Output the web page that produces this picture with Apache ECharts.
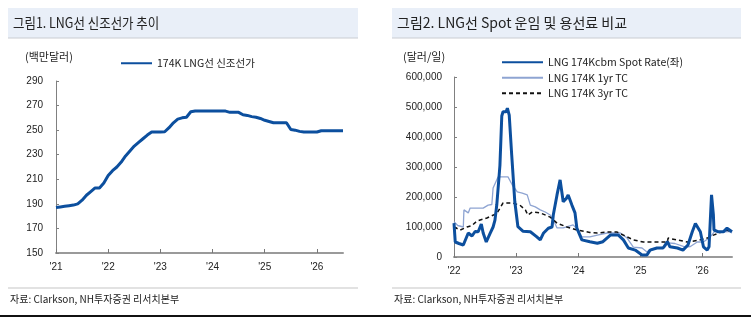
<!DOCTYPE html>
<html>
<head>
<meta charset="utf-8">
<script src="https://cdn.jsdelivr.net/npm/echarts@6/dist/echarts.min.js"></script>
<style>
  html, body { margin: 0; padding: 0; background: #fff; }
  #main { width: 751px; height: 317px; }
</style>
</head>
<body>
<div id="main"></div>
<script>
  // 그림1: 174K LNG선 신조선가 (월별, 2021.01 ~ 2026.07, 백만달러)
  var newbuildStart = 2021;
  var newbuildPrice = [
    187, 187.5, 188, 188.5, 189, 190, 193, 197, 200, 203, 203, 207,
    213, 217, 220, 224, 229, 233, 237, 240, 243, 246, 248.5, 248.5,
    248.5, 248.7, 252, 256, 259, 260, 260.5, 265, 265.5, 265.5, 265.5, 265.5,
    265.5, 265.5, 265.5, 265.5, 264.5, 264.5, 264.5, 262.5, 262, 261, 260.5, 259.5,
    258, 257, 256, 256, 256, 256, 250.5, 250, 249, 248.5, 248.5, 248.5,
    248.5, 249.5, 249.5, 249.5, 249.5, 249.5, 249.5
  ];
  var leftYears = [2021, 2022, 2023, 2024, 2025, 2026];

  // 그림2: Spot 운임 및 용선료 (달러/일), 시점은 연 단위 소수
  var spotT = [2022.00, 2022.02, 2022.08, 2022.15, 2022.19, 2022.23, 2022.29, 2022.34, 2022.39, 2022.44,
    2022.47, 2022.52, 2022.58, 2022.63, 2022.66, 2022.69, 2022.74, 2022.77, 2022.79, 2022.84,
    2022.86, 2022.89, 2022.93, 2022.98, 2023.03, 2023.11, 2023.23, 2023.33, 2023.39, 2023.44,
    2023.52, 2023.58, 2023.60, 2023.66, 2023.71, 2023.76, 2023.81, 2023.84, 2023.90, 2023.95,
    2023.98, 2024.06, 2024.19, 2024.31, 2024.40, 2024.52, 2024.65, 2024.73, 2024.81, 2024.92,
    2025.03, 2025.11, 2025.16, 2025.27, 2025.37, 2025.44, 2025.48, 2025.60, 2025.69, 2025.77,
    2025.84, 2025.89, 2025.97, 2026.02, 2026.08, 2026.11, 2026.15, 2026.18, 2026.19, 2026.26,
    2026.34, 2026.40, 2026.48];
  var spotV = [113000, 50000, 45000, 40000, 60000, 80000, 70000, 85000, 84000, 110000,
    80000, 50000, 78000, 100000, 123000, 175000, 305000, 470000, 484000, 484000,
    496000, 473000, 340000, 184000, 101000, 86000, 84000, 68000, 57000, 79000,
    96000, 100000, 140000, 207000, 257000, 184000, 195000, 207000, 173000, 147000,
    96000, 57000, 51000, 46000, 51000, 73000, 73000, 57000, 30000, 23000,
    7000, 7000, 23000, 30000, 30000, 51000, 34000, 30000, 23000, 40000,
    84000, 112000, 84000, 34000, 23000, 34000, 207000, 140000, 90000, 84000,
    84000, 96000, 84000];

  var tc1T = [2022.00, 2022.06, 2022.15, 2022.16, 2022.23, 2022.26, 2022.47, 2022.55, 2022.61, 2022.63,
    2022.71, 2022.87, 2022.94, 2023.02, 2023.10, 2023.18, 2023.23, 2023.31, 2023.39, 2023.47,
    2023.55, 2023.61, 2023.66, 2023.76, 2023.92, 2024.00, 2024.06, 2024.19, 2024.31, 2024.47,
    2024.68, 2024.79, 2024.89, 2025.03, 2025.11, 2025.19, 2025.40, 2025.45, 2025.56, 2025.73,
    2025.81, 2025.92, 2026.02, 2026.05, 2026.13, 2026.21, 2026.32, 2026.42, 2026.48];
  var tc1V = [118000, 105000, 100000, 157000, 147000, 163000, 163000, 173000, 175000, 230000,
    267000, 267000, 240000, 217000, 213000, 207000, 173000, 167000, 157000, 150000,
    140000, 120000, 97000, 97000, 107000, 90000, 67000, 67000, 73000, 80000,
    80000, 63000, 33000, 30000, 17000, 28000, 33000, 47000, 45000, 33000,
    35000, 50000, 50000, 47000, 67000, 88000, 83000, 85000, 80000];

  var tc3T = [2022.00, 2022.10, 2022.13, 2022.21, 2022.29, 2022.37, 2022.53, 2022.69, 2022.79, 2022.94,
    2023.06, 2023.15, 2023.19, 2023.26, 2023.39, 2023.55, 2023.66, 2023.82, 2023.98, 2024.19,
    2024.31, 2024.47, 2024.63, 2024.73, 2024.89, 2025.05, 2025.44, 2025.45, 2025.76, 2025.92,
    2026.08, 2026.18, 2026.40, 2026.48];
  var tc3V = [100000, 90000, 85000, 100000, 105000, 120000, 130000, 145000, 180000, 180000,
    173000, 157000, 140000, 150000, 147000, 133000, 113000, 100000, 90000, 82000,
    80000, 83000, 83000, 73000, 57000, 50000, 50000, 63000, 50000, 55000,
    63000, 73000, 90000, 83000];
  var rightYears = [2022, 2023, 2024, 2025, 2026];

  var NUM_FONT = 'Arial, "Liberation Sans", "Noto Sans CJK KR", sans-serif';
  var KR_FONT = '"Noto Sans CJK KR", "Liberation Sans", sans-serif';
  var DARK_BLUE = '#0c4f9e';
  var LIGHT_BLUE = '#8ea4d2';

  function pairs(t, v) {
    return t.map(function (x, i) { return [x, v[i]]; });
  }
  var newbuildData = newbuildPrice.map(function (v, i) { return [newbuildStart + i / 12, v]; });

  function yearLabel(v) {
    return "'" + String(v).slice(2);
  }

  var chart = echarts.init(document.getElementById('main'), null, { renderer: 'canvas' });

  var axisLabelStyle = { color: '#222', fontSize: 10, fontFamily: NUM_FONT };
  var legendText = { fontSize: 10.5, color: '#222', fontFamily: KR_FONT };

  chart.setOption({
    animation: false,
    textStyle: { fontFamily: NUM_FONT },
    grid: [
      { left: 56, top: 81, width: 287, height: 172 },
      { left: 454, top: 77, width: 278, height: 180 }
    ],
    legend: [
      {
        left: 120, top: 58, padding: 0, itemWidth: 31, itemHeight: 12, itemGap: 5,
        itemStyle: { opacity: 0 },
        data: ['174K LNG선 신조선가'],
        textStyle: legendText
      },
      {
        left: 501, top: 57, padding: 0, orient: 'vertical', itemWidth: 41, itemHeight: 12, itemGap: 5,
        itemStyle: { opacity: 0 },
        data: ['LNG 174Kcbm Spot Rate(좌)', 'LNG 174K 1yr TC', 'LNG 174K 3yr TC'],
        textStyle: legendText
      }
    ],
    xAxis: [
      {
        type: 'value', gridIndex: 0, min: 2021, max: 2026.5,
        axisLine: { lineStyle: { color: '#9a9a9a', width: 2 } },
        axisTick: { inside: true, length: 4, lineStyle: { color: '#777' }, customValues: leftYears },
        axisLabel: Object.assign({ margin: 9, formatter: yearLabel, customValues: leftYears }, axisLabelStyle),
        splitLine: { show: false }
      },
      {
        type: 'value', gridIndex: 1, min: 2022, max: 2026.48,
        axisLine: { lineStyle: { color: '#9a9a9a', width: 2 } },
        axisTick: { inside: true, length: 4, lineStyle: { color: '#777' }, customValues: rightYears },
        axisLabel: Object.assign({ margin: 9, formatter: yearLabel, customValues: rightYears }, axisLabelStyle),
        splitLine: { show: false }
      }
    ],
    yAxis: [
      {
        type: 'value', gridIndex: 0, min: 150, max: 290, interval: 20,
        axisLine: { show: true, lineStyle: { color: '#808080' } },
        axisTick: { show: true, inside: true, length: 3, lineStyle: { color: '#808080' } },
        axisLabel: Object.assign({ margin: 13 }, axisLabelStyle),
        splitLine: { show: false }
      },
      {
        type: 'value', gridIndex: 1, min: 0, max: 600000, interval: 100000,
        axisLine: { show: true, lineStyle: { color: '#808080' } },
        axisTick: { show: true, inside: true, length: 3, lineStyle: { color: '#808080' } },
        axisLabel: Object.assign({
          margin: 12,
          formatter: function (v) { return v.toLocaleString('en-US'); }
        }, axisLabelStyle),
        splitLine: { show: false }
      }
    ],
    series: [
      {
        name: '174K LNG선 신조선가', type: 'line', xAxisIndex: 0, yAxisIndex: 0,
        data: newbuildData, symbol: 'none', color: DARK_BLUE,
        lineStyle: { width: 3, color: DARK_BLUE }
      },
      {
        name: 'LNG 174K 1yr TC', type: 'line', xAxisIndex: 1, yAxisIndex: 1,
        data: pairs(tc1T, tc1V), symbol: 'none', color: LIGHT_BLUE, z: 2,
        lineStyle: { width: 1.3, color: LIGHT_BLUE }
      },
      {
        name: 'LNG 174K 3yr TC', type: 'line', xAxisIndex: 1, yAxisIndex: 1,
        data: pairs(tc3T, tc3V), symbol: 'none', color: '#111', z: 3,
        lineStyle: { width: 1.5, color: '#111', type: [4, 3] }
      },
      {
        name: 'LNG 174Kcbm Spot Rate(좌)', type: 'line', xAxisIndex: 1, yAxisIndex: 1,
        data: pairs(spotT, spotV), symbol: 'none', color: DARK_BLUE, z: 4,
        lineStyle: { width: 3, color: DARK_BLUE }
      }
    ],
    graphic: [
      // 제목 바
      { type: 'rect', shape: { x: 8, y: 8, width: 350, height: 30 }, style: { fill: '#e9eff8' }, silent: true },
      { type: 'rect', shape: { x: 392, y: 8, width: 349, height: 30 }, style: { fill: '#e9eff8' }, silent: true },
      { type: 'line', shape: { x1: 8, y1: 38, x2: 358, y2: 38 }, style: { stroke: '#c9ccd2', lineWidth: 1 } },
      { type: 'line', shape: { x1: 392, y1: 38, x2: 741, y2: 38 }, style: { stroke: '#c9ccd2', lineWidth: 1 } },
      { type: 'text', x: 13, y: 23, scaleX: 0.89, style: { text: '그림1. LNG선 신조선가 추이', font: '14px ' + KR_FONT, fill: '#222', verticalAlign: 'middle' } },
      { type: 'text', x: 397, y: 23, style: { text: '그림2. LNG선 Spot 운임 및 용선료 비교', font: '14px ' + KR_FONT, fill: '#222', verticalAlign: 'middle' } },
      // 단위
      { type: 'text', x: 25, y: 57, style: { text: '(백만달러)', font: '11px ' + KR_FONT, fill: '#222', verticalAlign: 'middle' } },
      { type: 'text', x: 403, y: 57, style: { text: '(달러/일)', font: '11px ' + KR_FONT, fill: '#222', verticalAlign: 'middle' } },
      // 출처
      { type: 'line', shape: { x1: 8, y1: 288, x2: 358, y2: 288 }, style: { stroke: '#d8d8d8', lineWidth: 1.5 } },
      { type: 'line', shape: { x1: 392, y1: 288, x2: 741, y2: 288 }, style: { stroke: '#d8d8d8', lineWidth: 1.5 } },
      { type: 'text', x: 10, y: 299, style: { text: '자료: Clarkson, NH투자증권 리서치본부', font: '10px ' + KR_FONT, fill: '#222', verticalAlign: 'middle' } },
      { type: 'text', x: 394, y: 299, style: { text: '자료: Clarkson, NH투자증권 리서치본부', font: '10px ' + KR_FONT, fill: '#222', verticalAlign: 'middle' } },
      { type: 'line', shape: { x1: 0, y1: 316, x2: 751, y2: 316 }, style: { stroke: '#111', lineWidth: 2 } }
    ]
  });
</script>
</body>
</html>
